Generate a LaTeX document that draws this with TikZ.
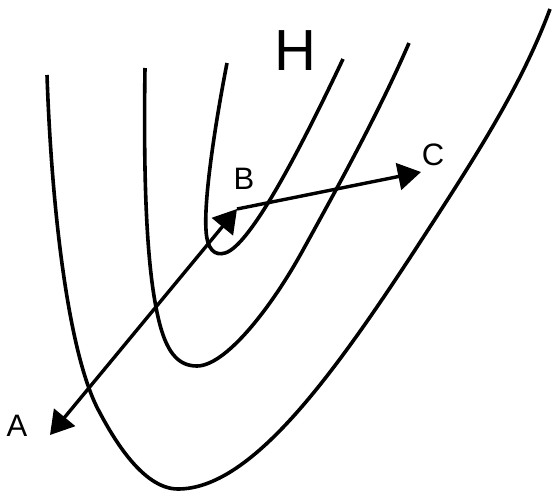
\documentclass[tikz,border=0pt]{standalone}
\usepackage{fontspec}
\setmainfont{Liberation Sans}
\usetikzlibrary{arrows.meta}
\begin{document}
\begin{tikzpicture}[x=1pt,y=-1pt,
  contour/.style={line width=3.6pt},
  vec/.style={line width=3.4pt},
  lbl/.style={inner sep=0pt,font=\fontsize{31}{31}\selectfont},
  big/.style={inner sep=0pt,font=\fontsize{58}{58}\selectfont}]
\useasboundingbox (0,0) rectangle (552,498);
% outer contour
\draw[contour] (47,75) .. controls (52,220) and (70,360) .. (100,413)
  .. controls (118,447) and (146,489) .. (178,489)
  .. controls (250,489) and (330,380) .. (415,250)
  .. controls (470,165) and (520,90) .. (550,9);
% middle contour
\draw[contour] (145,68) .. controls (143,200) and (148,280) .. (160,325)
  .. controls (168,355) and (180,366) .. (197,366)
  .. controls (225,366) and (270,310) .. (303,250)
  .. controls (340,183) and (380,110) .. (409,43);
% inner contour
\draw[contour] (227,63) .. controls (214,130) and (204,200) .. (206,230)
  .. controls (207,250) and (215,256) .. (225,253)
  .. controls (250,246) and (300,150) .. (343,59);
% points
\coordinate (A) at (50,435);
\coordinate (B) at (237,209);
\coordinate (C) at (421,172);
\node[lbl] (la) at (17,426) {A};
\node[lbl] (lb) at (244,179) {B};
\node[lbl] (lc) at (433,155) {C};
\node[big] (h) at (295,51) {H};
\draw[vec,{Triangle[length=23pt,width=27pt]}-{Triangle[length=23pt,width=27pt]}] (A) -- (B);
\draw[vec,-{Triangle[length=23pt,width=27pt]}] (B) -- (C);
\end{tikzpicture}
\end{document}
